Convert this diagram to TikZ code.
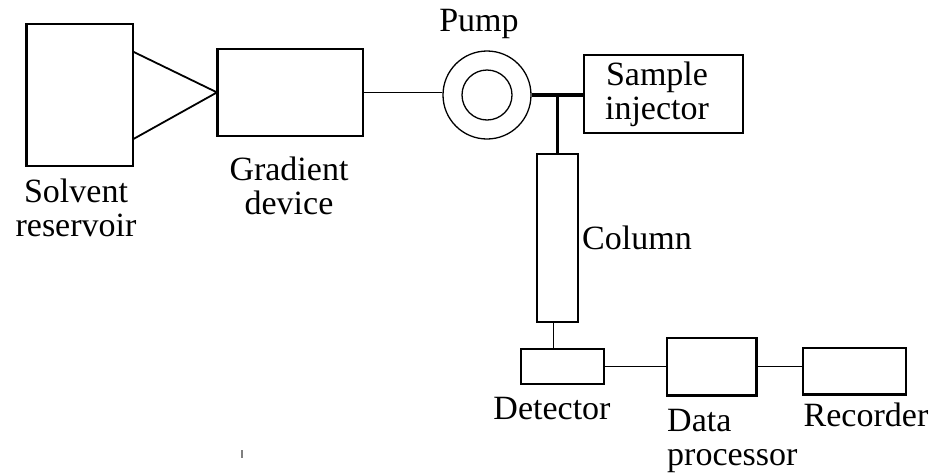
\documentclass[tikz,border=0pt]{standalone}
\usepackage{fontspec}
\setmainfont{Liberation Serif}
\begin{document}
\begin{tikzpicture}[x=1pt,y=-1pt,
  box/.style={draw, line width=1.8pt, inner sep=0pt, anchor=north west},
  lbl/.style={inner sep=0pt, align=center, font=\fontsize{34}{34}\selectfont},
  pipe/.style={line width=1.8pt},
  thickpipe/.style={line width=3.5pt}]
\useasboundingbox (0,0) rectangle (934,472);
% boxes
\node[box, minimum width=106pt, minimum height=142pt] (res) at (26,23) {};
\node[box, minimum width=145pt, minimum height=87pt] (grad) at (217,48) {};
\node[draw, circle, line width=1.3pt, minimum size=88pt, inner sep=0pt] (pumpout) at (487,95) {};
\node[draw, circle, line width=1.3pt, minimum size=50pt, inner sep=0pt] (pumpin) at (487,95) {};
\node[box, minimum width=159pt, minimum height=78pt] (inj) at (583,54) {};
\node[box, minimum width=41pt, minimum height=168pt] (col) at (536,153) {};
\node[box, minimum width=83pt, minimum height=35pt] (det) at (520,348) {};
\node[box, minimum width=89pt, minimum height=57pt] (data) at (666,337) {};
\node[box, minimum width=103pt, minimum height=46pt] (rec) at (802,347) {};
% thicker sides
\draw[line width=3pt] (res.north west) -- (res.south west);
\draw[line width=3pt] (grad.north west) -- (grad.south west);
\draw[line width=3pt] (data.north east) -- (data.south east) -- (data.south west);
\draw[line width=3pt] (rec.south west) -- (rec.south east);
% connectors
\draw[pipe] ([yshift=-29pt]res.north east) -- (grad.west) -- ([yshift=28pt]res.south east);
\draw[pipe] (grad.east) -- (grad.east -| pumpout.west);
\draw[thickpipe] (pumpout.east) -- (pumpout.east -| inj.west);
\draw[thickpipe] (col.north) -- (col.north |- pumpout.east);
\draw[pipe] ([xshift=-4pt]col.south) -- ([xshift=-4pt]col.south |- det.north);
\draw[pipe] (det.east) -- (det.east -| data.west);
\draw[pipe] (data.east) -- (data.east -| rec.west);
% labels
\node[lbl] (l1) at (76,208) {Solvent\\reservoir};
\node[lbl] (l2) at (289,186) {Gradient\\device};
\node[lbl] (l3) at (479,24) {Pump};
\node[lbl] (l4) at (657,94) {Sample\\injector};
\node[lbl, anchor=west] (l5) at (582,238) {Column};
\node[lbl] (l6) at (552,409) {Detector};
\node[lbl, anchor=north west, align=left] (l7) at (667,409) {Data\\processor};
\node[lbl] (l8) at (866,415) {Recorder};
% small mark
\draw[gray, line width=1.5pt] (242,450) -- (242,458);
\end{tikzpicture}
\end{document}
